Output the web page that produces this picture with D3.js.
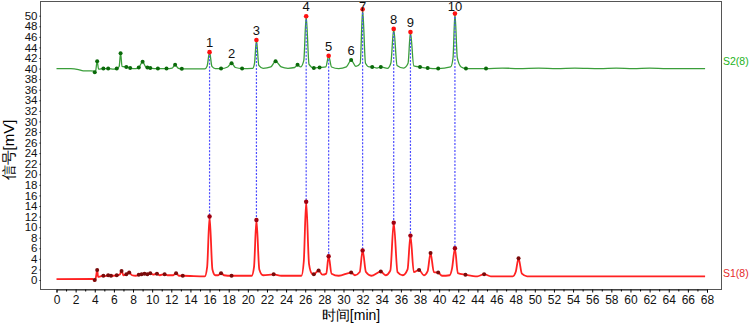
<!DOCTYPE html>
<html>
<head>
<meta charset="utf-8">
<script src="https://cdn.jsdelivr.net/npm/d3@7"></script>
<style>
  body { margin: 0; background: #fff; }
  text { font-family: Arial, "Liberation Sans", sans-serif; }
</style>
</head>
<body>
<div id="chart"></div>
<script>
// chromatogram traces: [time min, signal mV]
const s2Trace = [
  [0, 40.0], [1.5, 40.0], [2.3, 39.8], [2.8, 39.55], [3.6, 39.55], [3.9, 39.5], [4.0, 39.3], [4.1, 39.6],
  [4.25, 41.4], [4.4, 39.9], [4.9, 40.0], [5.4, 40.0], [6.0, 39.9], [6.3, 40.0], [6.55, 40.4], [6.7, 42.9],
  [6.85, 40.4], [7.3, 40.3], [7.7, 40.1], [8.3, 40.0], [8.6, 40.2], [9.0, 41.3], [9.3, 40.4], [9.5, 40.2],
  [9.8, 40.1], [10.6, 40.0], [11.5, 40.0], [12.1, 40.1], [12.4, 40.7], [12.7, 40.1], [13.1, 39.95],
  [15.5, 39.95], [15.75, 40.5], [16.0, 43.1], [16.25, 40.4], [16.6, 40.0], [17.2, 40.0], [17.9, 40.3],
  [18.3, 41.0], [18.7, 40.2], [19.4, 40.0], [20.5, 40.05], [20.7, 41.0], [20.9, 45.4], [21.15, 40.6],
  [21.6, 40.05], [22.4, 40.3], [22.9, 41.4], [23.5, 40.3], [24.2, 40.05], [24.9, 40.2], [25.2, 40.7],
  [25.5, 40.3], [25.85, 41.5], [26.1, 49.9], [26.4, 40.8], [26.9, 40.1], [27.5, 40.2], [28.15, 40.3],
  [28.45, 42.4], [28.75, 40.3], [29.5, 40.0], [30.3, 40.3], [30.8, 41.6], [31.3, 40.4], [31.75, 41.0],
  [32.0, 51.2], [32.3, 41.0], [32.7, 40.3], [33.0, 40.3], [33.5, 40.1], [33.9, 40.3], [34.6, 40.05],
  [34.95, 41.0], [35.25, 47.5], [35.6, 40.6], [36.3, 40.1], [36.75, 41.0], [37.0, 46.9], [37.35, 40.5],
  [38.0, 40.3], [38.8, 40.1], [39.9, 40.0], [41.2, 40.3], [41.45, 42.0], [41.65, 50.4], [41.9, 42.0],
  [42.3, 40.3], [42.8, 40.0], [44.9, 40.0], [46.6, 40.1], [48.3, 40.0], [50.4, 40.1], [52.3, 40.0],
  [54.2, 40.1], [56.8, 40.0], [58.5, 40.1], [60.3, 40.0], [62.0, 40.1], [63.8, 40.0], [67.8, 40.0]
];

const s1Trace = [
  [0, 0.15], [3.8, 0.2], [3.95, -0.2], [4.05, 0.0], [4.15, 0.8], [4.25, 1.9], [4.35, 0.6], [4.6, 0.7],
  [4.9, 0.8], [5.1, 0.75], [5.4, 0.9], [5.7, 0.8], [6.3, 0.9], [6.6, 1.0], [6.8, 1.7], [7.0, 0.9],
  [7.3, 1.1], [7.6, 1.4], [7.9, 0.9], [8.3, 0.8], [8.6, 1.0], [8.9, 1.1], [9.2, 1.2], [9.5, 1.1],
  [9.8, 1.3], [10.1, 1.0], [10.5, 1.2], [10.8, 0.9], [11.3, 1.1], [11.6, 0.9], [12.2, 0.9], [12.5, 1.3],
  [12.8, 0.8], [13.2, 0.8], [15.5, 0.7], [15.75, 2.5], [16.0, 12.0], [16.3, 2.0], [16.6, 0.9], [16.9, 0.9],
  [17.2, 1.3], [17.5, 0.9], [18.3, 0.8], [20.4, 0.8], [20.65, 2.5], [20.9, 11.35], [21.2, 2.0], [21.6, 0.9],
  [22.7, 1.07], [23.5, 0.8], [25.6, 0.8], [25.85, 3.5], [26.1, 14.8], [26.4, 3.0], [26.7, 1.2], [26.9, 1.1],
  [27.4, 1.8], [27.8, 1.0], [28.2, 1.2], [28.45, 4.5], [28.75, 1.2], [29.5, 0.8], [30.8, 1.4], [31.2, 0.9],
  [31.7, 1.5], [32.0, 5.6], [32.35, 1.5], [32.9, 0.8], [33.9, 1.6], [34.4, 0.9], [34.9, 1.8], [35.25, 10.85],
  [35.65, 1.5], [36.2, 0.9], [36.7, 2.0], [37.0, 8.4], [37.35, 1.5], [37.9, 1.9], [38.4, 0.9], [38.8, 1.7],
  [39.1, 5.1], [39.45, 1.5], [39.9, 1.4], [40.3, 0.8], [41.1, 0.9], [41.35, 2.2], [41.65, 6.0], [41.95, 1.3],
  [42.75, 1.0], [44.0, 0.7], [44.7, 1.1], [45.4, 0.7], [47.7, 0.7], [48.0, 1.5], [48.3, 4.1], [48.65, 1.2],
  [49.2, 0.7], [67.8, 0.7]
];

// labelled peaks of S2
const peakLabels = ['1', '2', '3', '4', '5', '6', '7', '8', '9', '10'];
const peakLabelTimes = [16.0, 18.3, 20.9, 26.1, 28.45, 30.8, 32.0, 35.25, 37.0, 41.65];

// peaks matched between S2 and S1
const matchedTimes = [16.0, 20.9, 26.1, 28.45, 32.0, 35.25, 37.0, 41.65];

// other detected peaks
const s2MinorTimes = [4.0, 4.25, 4.9, 5.4, 6.3, 6.7, 7.3, 7.7, 8.6, 9.0, 9.5, 9.8, 10.6, 11.5, 12.4, 13.1,
  17.2, 18.3, 19.4, 22.9, 25.2, 26.9, 27.5, 30.8, 33.0, 33.9, 38.0, 38.8, 39.9, 42.8, 44.9];
const s1MinorTimes = [4.0, 4.25, 4.9, 5.4, 5.7, 6.3, 6.8, 7.3, 7.6, 8.6, 8.9, 9.2, 9.5, 9.8, 10.5, 11.3,
  12.5, 13.2, 17.2, 18.3, 22.7, 26.9, 27.4, 30.8, 33.9, 37.9, 39.1, 39.9, 42.75, 44.7, 48.3];

const xTicks = d3.range(0, 69, 2);
const yTicks = d3.range(0, 51, 2);
const seriesNames = ['S2(8)', 'S1(8)'];

const WIDTH = 749, HEIGHT = 325;
const svg = d3.select('#chart').append('svg')
  .attr('width', WIDTH).attr('height', HEIGHT);

const x = d3.scaleLinear().domain([0, 68]).range([56.5, 707]);
const y = d3.scaleLinear().domain([0, 50]).range([280, 15.7]);

// frame
svg.append('rect')
  .attr('x', 40.5).attr('y', 1.5).attr('width', 681).attr('height', 288)
  .attr('fill', 'none').attr('stroke', '#555').attr('stroke-width', 1);

// x axis
const xAxis = svg.append('g').attr('transform', 'translate(0,289.5)')
  .call(d3.axisBottom(x).tickValues(xTicks).tickSize(3).tickPadding(3));
xAxis.select('.domain').attr('stroke', '#333');
xAxis.selectAll('text').attr('font-size', 12).attr('fill', '#111');
svg.append('g').attr('transform', 'translate(0,289.5)')
  .call(d3.axisBottom(x).tickValues(d3.range(1, 68, 2)).tickSize(2).tickFormat(''))
  .select('.domain').remove();

// y axis
const yAxis = svg.append('g').attr('transform', 'translate(40.5,0)')
  .call(d3.axisLeft(y).tickValues(yTicks).tickSize(1).tickPadding(2));
yAxis.select('.domain').remove();
yAxis.selectAll('text').attr('font-size', 11.5).attr('fill', '#111');

svg.append('text')
  .attr('x', 351).attr('y', 320).attr('text-anchor', 'middle')
  .attr('font-size', 14).text('时间[min]');
svg.append('text')
  .attr('transform', 'translate(14,150) rotate(-90)').attr('text-anchor', 'middle')
  .attr('font-size', 15).text('信号[mV]');

const line = d3.line()
  .x((d) => x(d[0]))
  .y((d) => y(d[1]))
  .curve(d3.curveMonotoneX);

svg.append('path').datum(s2Trace)
  .attr('fill', 'none').attr('stroke', '#3a9e3a').attr('stroke-width', 1.3)
  .attr('d', line);
svg.append('path').datum(s1Trace)
  .attr('fill', 'none').attr('stroke', '#ff2222').attr('stroke-width', 1.8)
  .attr('d', line);

// value of a trace at time t
const valueAt = (trace, t) => {
  const i = d3.bisector((d) => d[0]).center(trace, t);
  return trace[i][1];
};

// matched peak connectors
svg.append('g').selectAll('line')
  .data(matchedTimes)
  .join('line')
  .attr('x1', (t) => x(t)).attr('x2', (t) => x(t))
  .attr('y1', (t) => y(valueAt(s2Trace, t)))
  .attr('y2', (t) => y(valueAt(s1Trace, t)))
  .attr('stroke', '#4b4bff').attr('stroke-width', 1.2)
  .attr('stroke-dasharray', '2,1.5');

// peak markers
const dots = (times, trace, color, r) => {
  svg.append('g').selectAll('circle')
    .data(times)
    .join('circle')
    .attr('cx', (t) => x(t))
    .attr('cy', (t) => y(valueAt(trace, t)))
    .attr('r', r)
    .attr('fill', color);
};
dots(s2MinorTimes, s2Trace, '#0a6a0a', 2);
dots(s1MinorTimes, s1Trace, '#7a0a0a', 2);
dots(matchedTimes, s1Trace, '#a00010', 2.2);
dots(matchedTimes, s2Trace, '#ff1010', 2.3);

// peak numbers (kept inside the frame at the top)
svg.append('g').selectAll('text')
  .data(peakLabels)
  .join('text')
  .attr('x', (d, i) => x(peakLabelTimes[i]))
  .attr('y', (d, i) => Math.max(11, y(valueAt(s2Trace, peakLabelTimes[i])) - 5))
  .attr('text-anchor', 'middle')
  .attr('font-size', 13)
  .attr('fill', '#111')
  .text((d) => d);

// series names
svg.append('text').attr('x', 723).attr('y', 65)
  .attr('font-size', 10.5).attr('fill', '#22b322').text(seriesNames[0]);
svg.append('text').attr('x', 723).attr('y', 277)
  .attr('font-size', 10.5).attr('fill', '#e52a2a').text(seriesNames[1]);
</script>
</body>
</html>
